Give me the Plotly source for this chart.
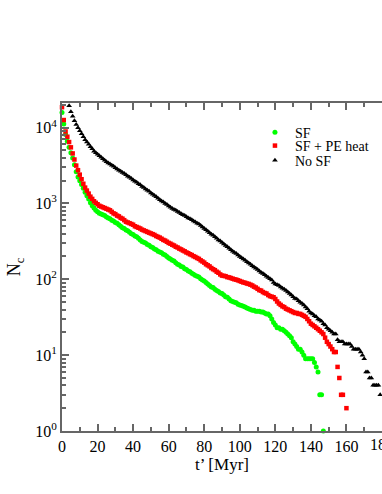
import plotly.graph_objects as go

# time axis (Myr)
t_sf = list(range(0, 148))
t_pe = list(range(0, 159)) + [160]
t_nosf = list(range(4, 180))

# number of clouds N_c
n_sf = [15800, 11200, 8130, 6610, 5500, 4680, 3980, 3240, 2630, 2240,
        2000, 1780, 1590, 1410, 1260, 1150, 1020, 933, 871, 813,
        776, 741, 724, 708, 692, 661, 646, 631, 603, 589,
        562, 550, 525, 501, 479, 468, 447, 437, 417, 398,
        389, 372, 363, 347, 331, 316, 309, 302, 288, 282,
        269, 263, 251, 245, 234, 229, 224, 214, 209, 200,
        191, 186, 178, 174, 166, 158, 155, 148, 145, 138,
        135, 129, 126, 120, 117, 112, 110, 107, 102, 98,
        95, 91, 87, 83, 79, 78, 74, 71, 69, 66,
        65, 62, 59, 58, 55, 52, 51, 50, 49, 47,
        46, 45, 44, 43, 42, 41, 40, 39, 39, 38,
        38, 38, 37, 37, 36, 35, 35, 33, 30, 27,
        25, 23, 23, 22, 22, 21, 20, 19, 18, 17,
        15, 14, 13, 12, 12, 11, 10, 9, 9, 9,
        9, 9, 8, 7, 6, 3, 3, 1]

n_pe = [18600, 12600, 8900, 7590, 6460, 5500, 4570, 3800, 3160, 2750,
        2400, 2090, 1820, 1620, 1480, 1350, 1230, 1150, 1070, 1020,
        977, 933, 912, 891, 871, 851, 832, 813, 776, 741,
        724, 692, 676, 646, 631, 603, 575, 562, 550, 537,
        525, 501, 490, 479, 468, 452, 442, 432, 422, 412,
        403, 394, 385, 372, 363, 355, 343, 331, 324, 313,
        302, 295, 286, 279, 269, 263, 254, 248, 240, 234,
        226, 221, 214, 209, 202, 197, 191, 186, 178, 172,
        166, 158, 153, 148, 141, 136, 132, 126, 122, 116,
        112, 111, 110, 107, 106, 104, 102, 100, 99, 97,
        95, 93, 91, 90, 88, 87, 85, 83, 80, 78,
        75, 72, 71, 68, 66, 65, 62, 60, 59, 58,
        55, 51, 48, 46, 44, 43, 41, 40, 39, 38,
        37, 36, 36, 35, 35, 34, 33, 32, 30, 28,
        26, 25, 24, 23, 22, 21, 20, 19, 17, 15,
        14, 13, 12, 11, 11, 7, 5, 3, 3,
        2]

n_nosf = [19500, 16200, 14100, 12300, 11000, 10000,
          9120, 8320, 7590, 6920, 6460, 6030, 5620, 5250, 4900, 4680,
          4470, 4270, 4070, 3890, 3720, 3550, 3430, 3310, 3200, 3090,
          2950, 2850, 2750, 2660, 2570, 2480, 2400, 2290, 2210, 2140,
          2040, 1970, 1910, 1820, 1760, 1680, 1620, 1550, 1500, 1450,
          1380, 1320, 1270, 1230, 1170, 1120, 1080, 1050, 1000, 966,
          923, 891, 861, 832, 813, 785, 759, 733, 708, 692,
          668, 646, 631, 610, 589, 569, 550, 537, 513, 490,
          468, 452, 432, 412, 394, 380, 363, 347, 331, 320,
          305, 292, 279, 269, 257, 245, 234, 226, 219, 209,
          200, 193, 186, 178, 170, 164, 158, 151, 145, 140,
          135, 129, 123, 119, 115, 110, 106, 102, 98, 91,
          87, 85, 83, 79, 76, 74, 71, 68, 65, 62,
          59, 56, 55, 52, 50, 48, 46, 43, 41, 38,
          36, 35, 33, 32, 30, 29, 28, 26, 25, 23,
          22, 21, 20, 19, 19, 16, 15, 15, 15, 14,
          14, 14, 14, 13, 12, 12, 12, 12, 11, 10,
          9, 6, 6, 5, 5, 4, 4, 4, 4, 3]

y_tickvals = [1, 10, 100, 1000, 10000]
y_ticktext = ["10<sup>0</sup>", "10<sup>1</sup>", "10<sup>2</sup>",
              "10<sup>3</sup>", "10<sup>4</sup>"]

FONT = "Liberation Serif"
AX = "#666666"

fig = go.Figure()
fig.add_trace(go.Scatter(x=t_sf, y=n_sf, mode="markers", name="SF", legend="legend",
                         marker=dict(symbol="circle", size=5, color="#00ff00"),
                         cliponaxis=False))
fig.add_trace(go.Scatter(x=t_pe, y=n_pe, mode="markers", name="SF + PE heat", legend="legend2",
                         marker=dict(symbol="square", size=4.5, color="#ff0000"),
                         cliponaxis=False))
fig.add_trace(go.Scatter(x=t_nosf, y=n_nosf, mode="markers", name="No SF", legend="legend3",
                         marker=dict(symbol="triangle-up", size=5, color="#000000"),
                         cliponaxis=False))

# one legend per row so the rows can sit as tight as in the original
leg = dict(x=0.603, xanchor="left", yanchor="middle",
           bgcolor="rgba(0,0,0,0)", font=dict(size=14))
fig.update_layout(
    width=382, height=494,
    margin=dict(l=62, r=0, t=103, b=63, autoexpand=False),
    paper_bgcolor="white", plot_bgcolor="white",
    font=dict(family=FONT, size=16, color="black"),
    showlegend=True,
    legend=dict(leg, y=0.9095),
    legend2=dict(leg, y=0.8689),
    legend3=dict(leg, y=0.8241),
)
fig.update_xaxes(range=[0, 180], dtick=20, tick0=0,
                 showline=True, linecolor=AX, linewidth=2, mirror="ticks",
                 ticks="inside", ticklen=7, tickwidth=1.5, tickcolor=AX,
                 minor=dict(ticks="inside", ticklen=4, dtick=10, tickcolor=AX, tickwidth=1.5),
                 showgrid=False, zeroline=False,
                 title=dict(text="t’ [Myr]", font=dict(size=17), standoff=2))
fig.update_yaxes(type="log", range=[0, 4.325],
                 tickmode="array", tickvals=y_tickvals, ticktext=y_ticktext,
                 showline=True, linecolor=AX, linewidth=2, mirror=False,
                 ticks="inside", ticklen=7, tickwidth=1.5, tickcolor=AX,
                 minor=dict(ticks="inside", ticklen=4, dtick="D1", tickcolor=AX, tickwidth=1.5),
                 showgrid=False, zeroline=False,
                 title=dict(text="N<sub>c</sub>", font=dict(size=18), standoff=10))

# the 180 label sits on the clipped right edge, as in the original
fig.add_annotation(x=180, y=0, xref="x", yref="paper", text="180",
                   showarrow=False, yanchor="top", yshift=-3,
                   font=dict(size=16))

# page body has a default margin; drop it so the figure sits at 0,0
fig.write_html("out.html", config={"displayModeBar": False},
               post_script="document.body.style.margin='0';")
